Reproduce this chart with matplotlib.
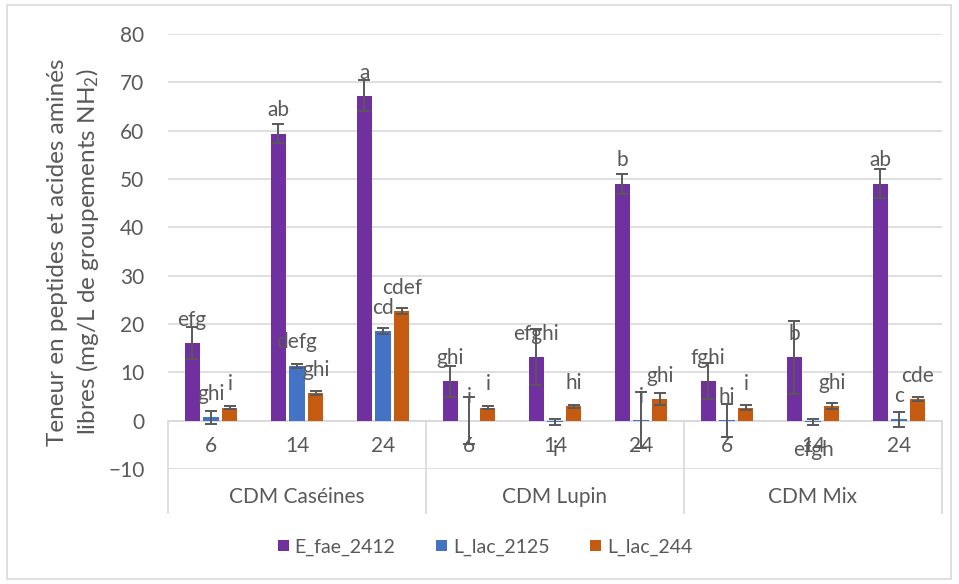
import matplotlib
matplotlib.use("Agg")
import matplotlib.pyplot as plt
from matplotlib.patches import Patch, Rectangle
import numpy as np

plt.rcParams["font.family"] = ["Lato", "DejaVu Sans"]
plt.rcParams["mathtext.default"] = "regular"

# Data
groups = ["CDM Caséines", "CDM Lupin", "CDM Mix"]
times = ["6", "14", "24"]
series_names = ["E_fae_2412", "L_lac_2125", "L_lac_244"]

e_fae_2412 = [16.0, 59.4, 67.2, 8.2, 13.1, 49.0, 8.2, 13.1, 49.0]
e_fae_2412_err = [3.3, 1.9, 3.2, 3.2, 5.8, 2.0, 3.8, 7.5, 3.0]
e_fae_2412_lbl = ["efg", "ab", "a", "ghi", "efghi", "b", "fghi", "b", "ab"]

l_lac_2125 = [0.7, 11.4, 18.5, 0.0, -0.2, 0.1, 0.05, -0.2, 0.25]
l_lac_2125_err = [1.4, 0.4, 0.6, 4.8, 0.6, 5.8, 3.35, 0.6, 1.6]
l_lac_2125_lbl = ["ghi", "defg", "cd", "i", "i", "i", "hi", "efgh", "c"]

l_lac_244 = [2.7, 5.7, 22.7, 2.7, 3.0, 4.5, 2.7, 3.0, 4.5]
l_lac_244_err = [0.3, 0.35, 0.6, 0.3, 0.3, 1.3, 0.5, 0.6, 0.35]
l_lac_244_lbl = ["i", "ghi", "cdef", "i", "hi", "ghi", "i", "ghi", "cde"]

colors = ["#7030A0", "#4472C4", "#C55A11"]
text_col = "#595959"
grid_col = "#D9D9D9"

W, H = 959, 584
fig = plt.figure(figsize=(W / 100, H / 100), dpi=100)
ax = fig.add_axes([168 / W, 1 - 469 / H, (942 - 168) / W, (469 - 34) / H])

n = len(groups) * len(times)
x = np.arange(n)
offsets = [-0.22, 0.0, 0.22]
width = 0.175

values = [e_fae_2412, l_lac_2125, l_lac_244]
errors = [e_fae_2412_err, l_lac_2125_err, l_lac_244_err]
labels = [e_fae_2412_lbl, l_lac_2125_lbl, l_lac_244_lbl]

ax.set_ylim(-10, 80)
ax.set_xlim(-0.5, n - 0.5)
ax.set_yticks(np.arange(-10, 81, 10))
ax.yaxis.grid(True, color=grid_col, linewidth=1.2)
ax.set_axisbelow(True)
ax.set_xticks([])
for s in ax.spines.values():
    s.set_visible(False)
ax.tick_params(axis="y", length=0, pad=17, labelsize=15, labelcolor=text_col)

for vals, errs, lbls, col, off in zip(values, errors, labels, colors, offsets):
    xs = x + off
    ax.bar(xs, vals, width=width, color=col, zorder=2)
    ax.errorbar(xs, vals, yerr=errs, fmt="none", ecolor=text_col,
                elinewidth=1.4, capsize=4, capthick=1.4, zorder=3)
    for xi, v, t in zip(xs, vals, lbls):
        if v >= 0:
            ax.annotate(t, (xi, v), xytext=(0, 12.5), textcoords="offset points",
                        ha="center", va="baseline", fontsize=15, color=text_col, zorder=4)
        else:
            ax.annotate(t, (xi, v), xytext=(0, -13), textcoords="offset points",
                        ha="center", va="top", fontsize=15, color=text_col, zorder=4)

# category axis: line at zero, group boundaries and two label rows
ax.axhline(0, color=grid_col, linewidth=1.2, zorder=1.5)
xt = ax.get_xaxis_transform()
bottom_rows = -(513 - 469) / (469 - 34)
for b in np.arange(-0.5, n, 3):
    ax.plot([b, b], [(469 - 421) / (469 - 34), bottom_rows], transform=xt,
            color=grid_col, linewidth=1.2, clip_on=False)

for i in range(n):
    ax.text(x[i], -5.2, times[i % 3], ha="center", va="center",
            fontsize=15, color=text_col)
for g, name in enumerate(groups):
    ax.text(3 * g + 1, -(497 - 469) / (469 - 34), name, transform=xt,
            ha="center", va="center", fontsize=15, color=text_col)

fig.text(74 / W, 1 - 252 / H,
         "Teneur en peptides et acides aminés\nlibres (mg/L de groupements NH$_2$)",
         rotation=90, ha="center", va="center", multialignment="center",
         fontsize=17.5, color=text_col, linespacing=1.3)

handles = [Patch(facecolor=c, edgecolor="none") for c in colors]
fig.legend(handles, series_names, loc="center", bbox_to_anchor=(485 / W, 1 - 547 / H),
           ncol=3, frameon=False, fontsize=14, labelcolor=text_col,
           handlelength=0.55, handleheight=0.55, handletextpad=0.3, columnspacing=2.1)

fig.patches.append(Rectangle((7 / W, 1 - 579 / H), (951 - 7) / W, (579 - 5) / H,
                             transform=fig.transFigure, fill=False,
                             edgecolor=grid_col, linewidth=1.2))

fig.savefig("out.png", dpi=100)
